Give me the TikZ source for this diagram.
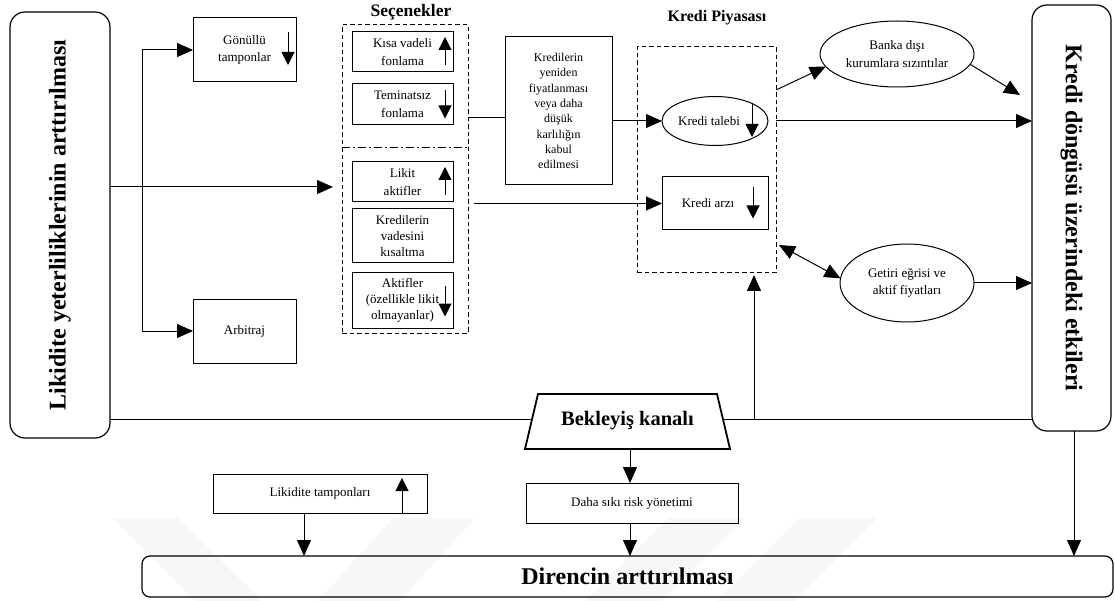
\documentclass[tikz,border=0pt]{standalone}
\usepackage{fontspec}
\setmainfont{Liberation Serif}
\usetikzlibrary{arrows.meta,shapes.geometric,calc}

\begin{document}
\begin{tikzpicture}[x=1pt,y=-1pt,
  every node/.style={inner sep=0pt, outer sep=0pt},
  txt/.style={align=center, font=\fontsize{13}{17}\selectfont},
  box/.style={txt, draw, line width=1pt},
  oval/.style={txt, draw, ellipse, line width=1pt},
  bigbox/.style={draw, rounded corners=15pt, line width=1.2pt, font=\bfseries\fontsize{24}{28}\selectfont},
  groupbox/.style={draw, line width=1pt, dash pattern=on 4.5pt off 3pt},
  title/.style={font=\bfseries\fontsize{16}{18}\selectfont},
  link/.style={line width=1pt},
  arr/.style={link, -{Triangle[length=16pt,width=14pt]}},
  darr/.style={link, {Triangle[length=16pt,width=14pt]}-{Triangle[length=16pt,width=14pt]}},
  dirmark/.style={line width=1pt, -{Triangle[length=13pt,width=13pt]}},
  watermark/.style={fill=black!3, draw=none}
]
\useasboundingbox (0,0) rectangle (1115,601);

% faint background stripes
\fill[watermark] (112,518) -- (178,518) -- (262,601) -- (196,601) -- cycle;
\fill[watermark] (393,518) -- (475,518) -- (400,601) -- (318,601) -- cycle;
\fill[watermark] (668,518) -- (745,518) -- (662,601) -- (585,601) -- cycle;
\fill[watermark] (800,518) -- (877,518) -- (794,601) -- (717,601) -- cycle;

% side boxes
\node[bigbox, minimum width=100pt, minimum height=426pt] (leftbox) at (60,225)
  {\rotatebox{90}{Likidite yeterliliklerinin arttırılması}};
\node[bigbox, minimum width=79pt, minimum height=426pt] (rightbox) at (1071.5,218)
  {\rotatebox{-90}{Kredi döngüsü üzerindeki etkileri}};

% first branch
\node[box, minimum width=103pt, minimum height=64pt] (gonullu) at (244.5,50) {Gönüllü\\tamponlar};
\node[box, minimum width=103pt, minimum height=64pt] (arbitraj) at (244.5,331) {Arbitraj};

% options group
\node[title, font=\bfseries\fontsize{17.5}{20}\selectfont] (sectitle) at (411,12) {Seçenekler};
\node[groupbox, minimum width=126pt, minimum height=308pt] (sec) at (405,179) {};
\coordinate (sepL) at (sec.west |- 0,148);
\draw[line width=1pt, dash pattern=on 8pt off 3pt on 2pt off 3pt] (sepL) -- (sec.east |- sepL);

\node[box, minimum width=101pt, minimum height=40pt, font=\fontsize{13}{18}\selectfont] (kisa) at (402.5,52) {Kısa vadeli\\fonlama};
\node[box, minimum width=101pt, minimum height=41pt, font=\fontsize{13}{18}\selectfont] (temin) at (402.5,104.5) {Teminatsız\\fonlama};
\node[box, minimum width=101pt, minimum height=40pt, font=\fontsize{13}{18}\selectfont] (likit) at (402.5,182) {Likit\\aktifler};
\node[box, minimum width=101pt, minimum height=54pt, font=\fontsize{13}{16}\selectfont] (vade) at (402.5,236) {Kredilerin\\vadesini\\kısaltma};
\node[box, minimum width=101pt, minimum height=55pt, font=\fontsize{13}{16}\selectfont] (aktif) at (402.5,300.5) {Aktifler\\(özellikle likit\\olmayanlar)};

% repricing
\node[box, minimum width=107pt, minimum height=148pt, font=\fontsize{12}{15.3}\selectfont] (reprice) at (558.5,111)
  {Kredilerin\\yeniden\\fiyatlanması\\veya daha\\düşük\\karlılığın\\kabul\\edilmesi};

% credit market group
\node[title] (kptitle) at (717,18) {Kredi Piyasası};
\node[groupbox, minimum width=139pt, minimum height=226pt] (kp) at (706.5,160) {};
\node[oval, minimum width=106pt, minimum height=49pt] (talep) at (715,121) {\hspace*{-12pt}Kredi talebi};
\node[box, minimum width=106pt, minimum height=53pt] (arz) at (715,203.5) {\hspace*{-14pt}Kredi arzı};

% side effects
\node[oval, minimum width=154pt, minimum height=66pt, font=\fontsize{13}{18}\selectfont] (banka) at (897,54) {Banka dışı\\kurumlara sızıntılar};
\node[oval, minimum width=134pt, minimum height=78pt] (getiri) at (907,283) {Getiri eğrisi ve\\aktif fiyatları};

% expectations channel (trapezoid)
\draw[line width=1.8pt, line join=miter] (538,394) -- (717,394) -- (730,449) -- (525,449) -- cycle;
\node[font=\bfseries\fontsize{20.5}{24}\selectfont] (bek) at (627.5,421) {Bekleyiş kanalı};
\coordinate (bekL) at (532,419);
\coordinate (bekR) at (723,419);
\coordinate (bekS) at (630,449);

% lower boxes
\node[box, minimum width=214pt, minimum height=39pt] (tamp) at (320,493.5) {Likidite tamponları};
\node[box, minimum width=212pt, minimum height=40pt] (daha) at (632,503) {Daha sıkı risk yönetimi};
\node[draw, rounded corners=8pt, line width=1.2pt, minimum width=971pt, minimum height=41pt,
  font=\bfseries\fontsize{24}{28}\selectfont] (direnc) at (627.5,576.5) {Direncin arttırılması};

% direction marks inside boxes
\draw[dirmark] ($(gonullu.east)+(-8,-18)$) -- ($(gonullu.east)+(-8,15)$);
\draw[dirmark] ($(kisa.east)+(-8,13)$) -- ($(kisa.east)+(-8,-15)$);
\draw[dirmark] ($(temin.east)+(-8,-14)$) -- ($(temin.east)+(-8,14)$);
\draw[dirmark] ($(likit.east)+(-8,13)$) -- ($(likit.east)+(-8,-15)$);
\draw[dirmark] ($(aktif.east)+(-8,-14)$) -- ($(aktif.east)+(-8,16)$);
\draw[dirmark] ($(talep.east)+(-16,-18)$) -- ($(talep.east)+(-16,16)$);
\draw[dirmark] ($(arz.east)+(-15,-16)$) -- ($(arz.east)+(-15,15)$);
\draw[dirmark] ($(tamp.south east)+(-25,0)$) -- ($(tamp.south east)+(-25,-35)$);

% connectors from the liquidity box
\coordinate (br) at (142,187);
\draw[arr, shorten >=9pt] (leftbox.east |- br) -- (sec.west |- br);
\draw[arr] (br) |- (gonullu.west);
\draw[arr] (br) |- (arbitraj.west);

% expectations line
\draw[link] (leftbox.east |- bekL) -- (bekL);
\draw[link] (bekR) -- (rightbox.west |- bekR);
\coordinate (upfoot) at (754,419);
\draw[arr, shorten >=2pt] (upfoot) -- (upfoot |- kp.south);
\draw[arr] (bekS) -- (bekS |- daha.north);

% options to market
\coordinate (rin) at ($(reprice.west)+(0,7)$);
\draw[link] (sec.east |- rin) -- (rin);
\draw[arr] (reprice.east |- talep.west) -- (talep.west);
\draw[arr] ($(sec.east |- arz.west)+(6,0)$) -- (arz.west);

% market to effects
\draw[arr] ($(kp.north east)+(0,43)$) -- (banka.190);
\coordinate (leak) at ($(rightbox.north west)+(-12,90)$);
\draw[arr] (banka.-8) -- (leak);
\draw[arr] (kp.east |- talep.east) -- (rightbox.west |- talep.east);
\draw[darr] ($(kp.south east)+(3,-28)$) -- (getiri.176);
\draw[arr] (getiri.east) -- (rightbox.west |- getiri.east);

% into resilience
\coordinate (tfoot) at ($(tamp.south)+(-16,0)$);
\draw[arr] (tfoot) -- (tfoot |- direnc.north);
\draw[arr] (bekS |- daha.south) -- (bekS |- direnc.north);
\draw[arr] ($(rightbox.south)+(2.5,0)$) -- ($(rightbox.south |- direnc.north)+(2.5,0)$);
\end{tikzpicture}
\end{document}
